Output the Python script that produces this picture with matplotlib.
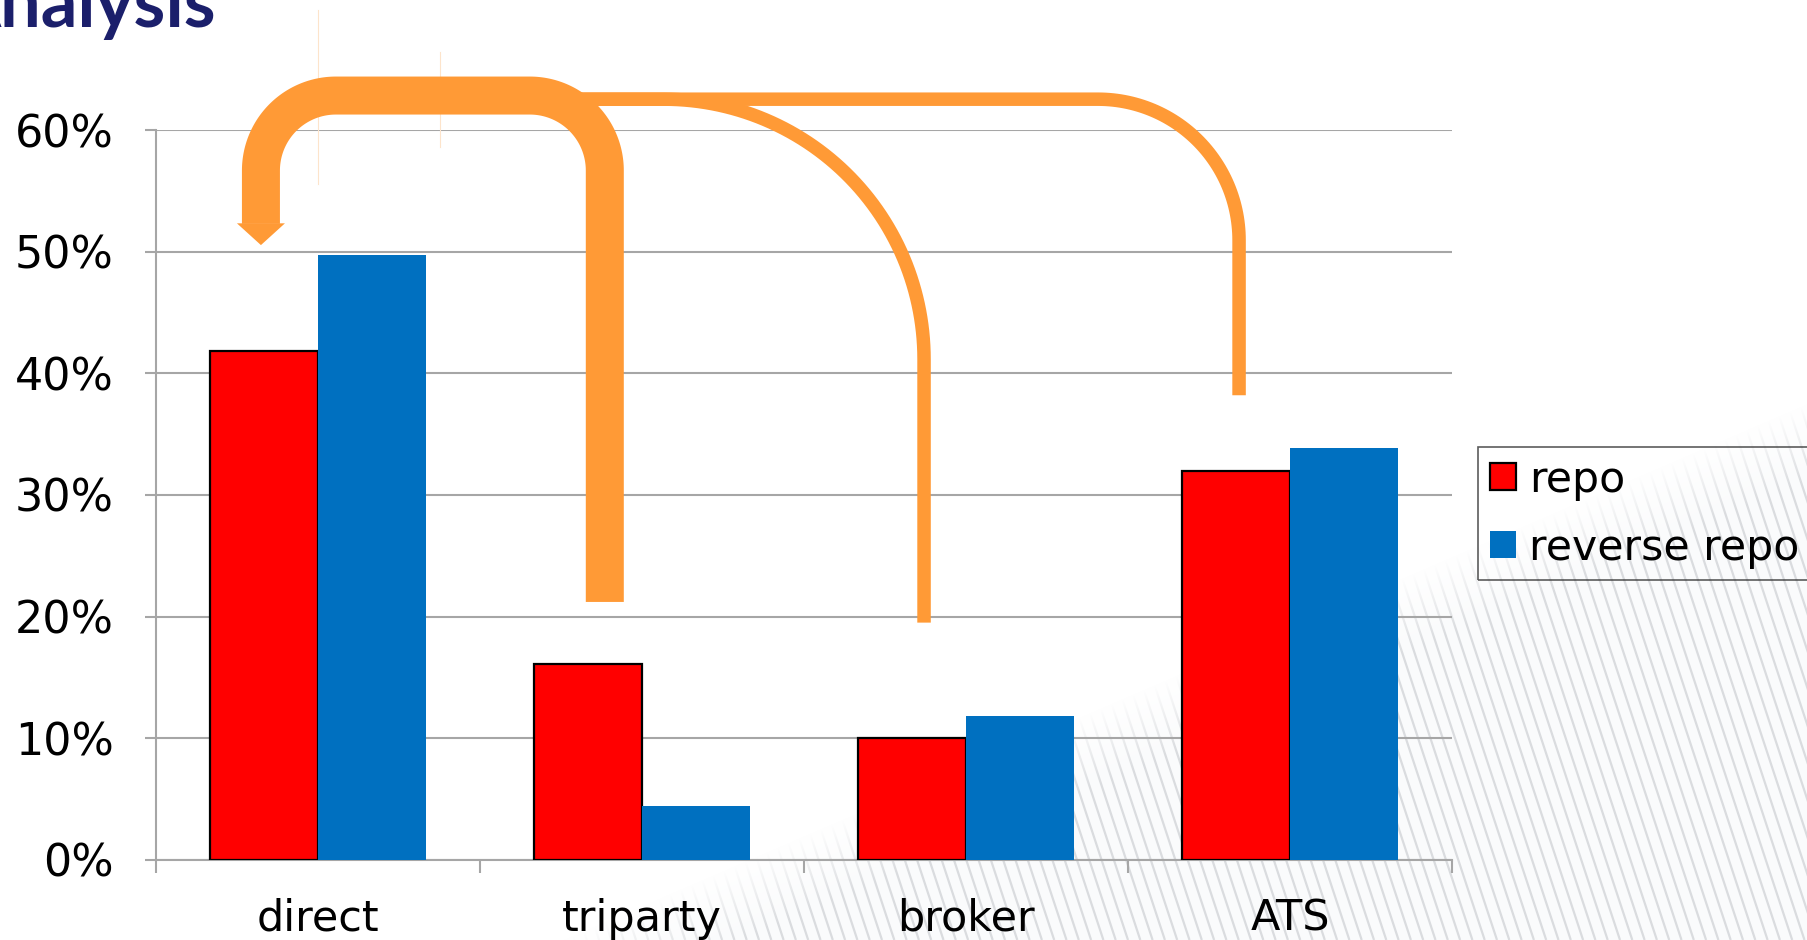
import numpy as np
import matplotlib
matplotlib.use("Agg")
import matplotlib.pyplot as plt
from matplotlib.lines import Line2D
from matplotlib.patches import Polygon

# ---- data -------------------------------------------------------------
categories = ["direct", "triparty", "broker", "ATS"]
repo = [41.8, 16.1, 10.0, 32.0]
reverse_repo = [49.7, 4.4, 11.8, 33.9]
series_labels = ["repo", "reverse repo"]
yticks = [0, 10, 20, 30, 40, 50, 60]
ytick_labels = [f"{v}%" for v in yticks]

# flows drawn as rounded connectors (x in category units, y in %)
flow_main = dict(start=0.886, end=-0.175, start_y=21.2, top=62.85, head_base=52.3, head_tip=50.55)
flow_broker = dict(start=0.726, end=1.871, top=62.55, end_y=19.5)
flow_ats = dict(start=0.726, end=2.843, top=62.55, end_y=38.2)

RED = "#ff0000"
BLUE = "#0070c0"
ORANGE = "#ff9a36"
GRID = "#a6a6a6"
NAVY = "#1b1f6b"
HATCH = "#dadcdf"

W, H = 1807, 940
fig = plt.figure(figsize=(W / 100, H / 100), dpi=100)
fig.patch.set_facecolor("white")

# ---- striped backdrop in the lower right ------------------------------
bg = fig.add_axes([0, 0, 1, 1], zorder=0)
bg.set_xlim(0, W)
bg.set_ylim(H, 0)
bg.axis("off")
region = Polygon([(540, 940), (1807, 390), (1807, 940)], closed=True,
                 facecolor="#fafbfc", edgecolor="none")
bg.add_patch(region)
slope = 0.33
for x0 in np.arange(-300, W + 50, 12.3):
    ln, = bg.plot([x0, x0 + slope * 600], [340, 940], color=HATCH, lw=1.6,
                  solid_capstyle="butt")
    ln.set_clip_path(region)
# soft fade along the stripe boundary
yy, xx = np.mgrid[0:H, 0:W]
nx, ny = 520.0, 1207.0
dist = ((xx - 650) * nx + (yy - 940) * ny) / np.hypot(nx, ny)
fade = np.zeros((H, W, 4))
fade[..., :3] = 1.0
fade[..., 3] = np.clip(0.5 - dist / 70.0, 0, 1)
bg.imshow(fade, extent=(0, W, H, 0), zorder=5, interpolation="bilinear")
bg.set_xlim(0, W)
bg.set_ylim(H, 0)

# ---- bar chart ----------------------------------------------------------
ax = fig.add_axes([155.6 / W, 1 - 859.7 / H, (1452 - 155.6) / W, (859.7 - 130.2) / H],
                  zorder=2)
ax.patch.set_alpha(0)
x = np.arange(len(categories))
bw = 1 / 3
ax.bar(x - bw / 2, repo, bw, color=RED, edgecolor="black", linewidth=1.6,
       zorder=3, label=series_labels[0])
ax.bar(x + bw / 2, reverse_repo, bw, color=BLUE, linewidth=0,
       zorder=3, label=series_labels[1])

ax.set_xlim(-0.5, len(categories) - 0.5)
ax.set_ylim(0, 60)
ax.set_yticks(yticks, ytick_labels)
ax.yaxis.grid(True, color=GRID, lw=1.5)
ax.set_axisbelow(True)
ax.tick_params(axis="y", length=8, width=1.5, color=GRID, pad=22, labelsize=32)
ax.set_xticks(np.arange(len(categories) + 1) - 0.5)
ax.set_xticklabels([])
ax.set_xticks(x, categories, minor=True)
ax.tick_params(axis="x", which="major", length=9, width=1.5, color=GRID)
ax.tick_params(axis="x", which="minor", length=0, pad=27.5, labelsize=31)
for side in ("top", "right"):
    ax.spines[side].set_visible(False)
for side in ("left", "bottom"):
    ax.spines[side].set_color(GRID)
    ax.spines[side].set_linewidth(1.5)

leg = ax.legend(loc="upper left", bbox_to_anchor=(1478 / W, 1 - 447 / H),
                bbox_transform=fig.transFigure, fontsize=30.7, frameon=True,
                fancybox=False, edgecolor="#333333", facecolor="none",
                handlelength=0.6, handleheight=0.6, handletextpad=0.32,
                labelspacing=0.6, borderpad=0.28, borderaxespad=0)
leg.get_frame().set_linewidth(1.2)

# faint guide strokes above the plot
ax.plot([0.0, 0.0], [69.9, 55.6], color="#fde4cb", lw=0.8, clip_on=False, zorder=1)
ax.plot([0.378, 0.378], [66.4, 58.6], color="#fde4cb", lw=0.8, clip_on=False, zorder=1)

# ---- rounded flow connectors ------------------------------------------
to_fig = fig.transFigure.inverted()


def rounded_route(points, radius, n=60):
    pts = [np.asarray(p, float) for p in ax.transData.transform(points)]
    out = [pts[0]]
    for i in range(1, len(pts) - 1):
        p0, p1, p2 = pts[i - 1], pts[i], pts[i + 1]
        d1 = (p1 - p0) / np.linalg.norm(p1 - p0)
        d2 = (p2 - p1) / np.linalg.norm(p2 - p1)
        a = p1 - d1 * radius
        c = a + d2 * radius
        b = p1 + d2 * radius
        ang_a = np.arctan2(a[1] - c[1], a[0] - c[0])
        ang_b = np.arctan2(b[1] - c[1], b[0] - c[0])
        da = (ang_b - ang_a + np.pi) % (2 * np.pi) - np.pi
        t = np.linspace(0, 1, n)
        out.extend(c + radius * np.column_stack([np.cos(ang_a + da * t),
                                                 np.sin(ang_a + da * t)]))
    out.append(pts[-1])
    return to_fig.transform(np.array(out))


def draw_route(points, radius, width_px, z):
    xy = rounded_route(points, radius)
    fig.add_artist(Line2D(xy[:, 0], xy[:, 1], transform=fig.transFigure,
                          color=ORANGE, lw=width_px * 0.72,
                          solid_capstyle="butt", solid_joinstyle="round",
                          zorder=z))


f = flow_broker
draw_route([(f["start"], f["top"]), (f["end"], f["top"]), (f["end"], f["end_y"])],
           260, 13.5, 5)
f = flow_ats
draw_route([(f["start"], f["top"]), (f["end"], f["top"]), (f["end"], f["end_y"])],
           141, 13.5, 5)
f = flow_main
draw_route([(f["start"], f["start_y"]), (f["start"], f["top"]),
            (f["end"], f["top"]), (f["end"], f["head_base"])], 75, 38, 6)
base = ax.transData.transform((f["end"], f["head_base"]))
tip = ax.transData.transform((f["end"], f["head_tip"]))
head = to_fig.transform(np.array([base + (-24, 0.5), base + (24, 0.5), tip]))
fig.add_artist(Polygon(head, closed=True, transform=fig.transFigure,
                       facecolor=ORANGE, edgecolor="none", zorder=6))

# ---- heading --------------------------------------------------------------
fig.text(216 / W, 1 - 27 / H, "Analysis", ha="right", va="baseline",
         fontsize=52, fontweight="bold", family=["Lato", "DejaVu Sans"], color=NAVY)

fig.savefig("out.png", dpi=100)
